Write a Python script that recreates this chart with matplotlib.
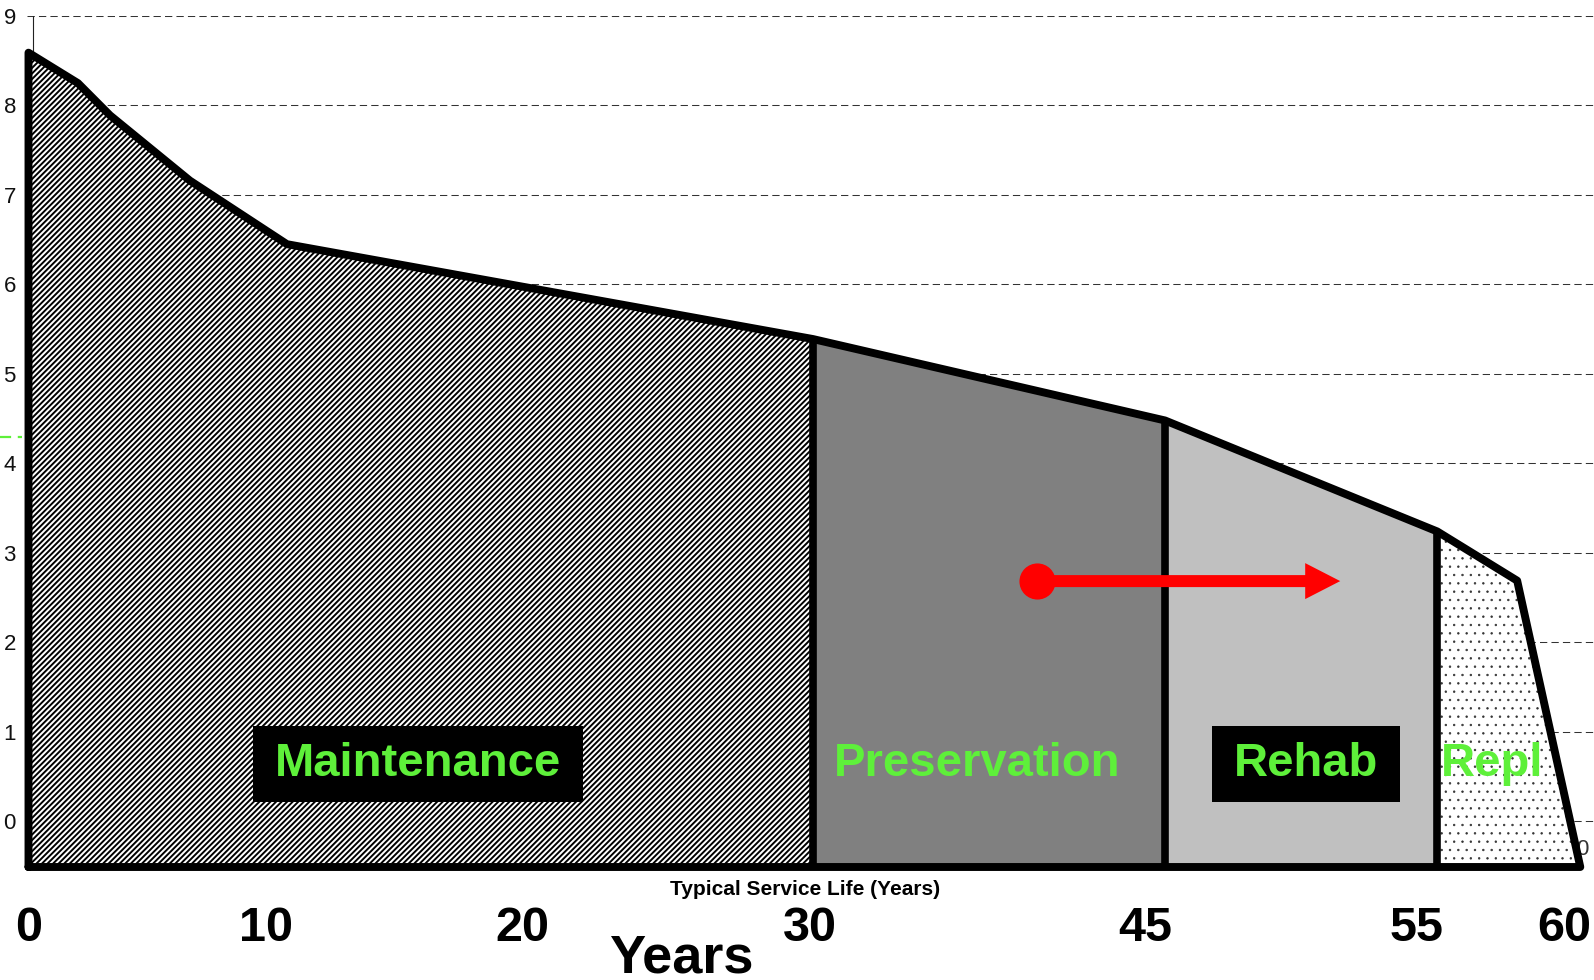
import matplotlib
matplotlib.use('Agg')
import matplotlib.pyplot as plt
from matplotlib.patches import ArrowStyle

# ---------------- data ----------------
age = [0.0, 1.91, 3.15, 6.24, 9.99, 30.32, 43.93, 54.45, 57.54, 59.98]
condition = [8.59, 8.25, 7.89, 7.16, 6.45, 5.39, 4.48, 3.24, 2.69, -0.51]
base = -0.51
phase_names = ['Maintenance', 'Preservation', 'Rehab', 'Repl']
phase_bounds = [0.0, 30.32, 43.93, 54.45, 59.98]
label_x = [15.06, 36.66, 49.37, 56.57]
label_y = 0.64
yticks = list(range(10))
xtick_pos = [0, 9.18, 19.10, 30.21, 43.16, 53.67, 59.35]
xtick_labels = ['0', '10', '20', '30', '45', '55', '60']
arrow_start = (38.97, 2.685)
arrow_end = (50.70, 2.685)

plt.rcParams['font.family'] = ['Liberation Sans', 'DejaVu Sans']

GREEN = '#5EF03A'

fig = plt.figure(figsize=(15.94, 9.80), dpi=100)
W, H = 1594, 980
ax = fig.add_axes([27 / W, (H - 867) / H, (W - 27) / W, (867 - 16) / H])
ax.set_xlim(-0.058, 60.51)
ax.set_ylim(base, 9)
for s in ax.spines.values():
    s.set_visible(False)

# y axis / grid
ax.set_yticks(yticks)
ax.set_yticklabels([str(v) for v in yticks], fontsize=16, color='#111111')
ax.tick_params(axis='y', length=0, pad=8)
ax.yaxis.grid(True, color='#333333', lw=0.75, linestyle=(0, (7, 4)), zorder=0)
ax.set_axisbelow(True)
ax.axvline(0.174, color='#222222', lw=0.8, zorder=1)

# x "ticks"
ax.set_xticks(xtick_pos)
ax.set_xticklabels(xtick_labels, fontsize=35, fontweight='bold')
ax.tick_params(axis='x', length=0, pad=28)

# phase fills
styles = [
    dict(facecolor='white', edgecolor='black', hatch='//////', linewidth=0),
    dict(facecolor='#808080', edgecolor='none', linewidth=0),
    dict(facecolor='#c0c0c0', edgecolor='none', linewidth=0),
    dict(facecolor='white', edgecolor='#333333', hatch='..', linewidth=0),
]
hatch_lw = [1.4, 1.0, 1.0, 0.5]
for i in range(4):
    lo, hi = phase_bounds[i], phase_bounds[i + 1]
    xs = [a for a in age if lo <= a <= hi]
    ys = [c for a, c in zip(age, condition) if lo <= a <= hi]
    plt.rcParams['hatch.linewidth'] = hatch_lw[i]
    coll = ax.fill_between(xs, ys, base, zorder=2, clip_on=False, **styles[i])
    if hasattr(coll, 'set_hatch_linewidth'):
        coll.set_hatch_linewidth(hatch_lw[i])

# outline
ax.plot([0] + age + [0], [base] + condition + [base], color='black', lw=5.7,
        solid_joinstyle='round', solid_capstyle='round', zorder=3, clip_on=False)
for b in phase_bounds[1:-1]:
    ax.plot([b, b], [base, condition[age.index(b)]], color='black', lw=5.5,
            solid_capstyle='butt', zorder=3, clip_on=False)

# arrow
ax.annotate('', xy=arrow_end, xytext=arrow_start,
            arrowprops=dict(arrowstyle=ArrowStyle.Simple(head_length=2.52, head_width=2.59,
                                                         tail_width=0.864),
                            mutation_scale=10, color='red', lw=0,
                            shrinkA=0, shrinkB=0), zorder=5)
ax.plot([arrow_start[0]], [arrow_start[1]], 'o', ms=25, color='red', mec='red', zorder=6)

# phase labels
for i, name in enumerate(phase_names):
    kw = dict(ha='center', va='center', fontsize=34, fontweight='bold', color=GREEN, zorder=7)
    if name in ('Maintenance', 'Rehab'):
        kw['bbox'] = dict(boxstyle='square,pad=0.46', facecolor='black', edgecolor='none',
                          mutation_aspect=0.72)
    ax.text(label_x[i], label_y, name, **kw)

# leftover artefacts of underlying chart
ax.plot([-1.10, -0.25], [4.29, 4.29], color=GREEN, lw=1.6, linestyle=(0, (5, 3)),
        clip_on=False, zorder=1)
ax.text(60.05, -0.32, '0', fontsize=16, color='#333333', ha='center', va='center',
        zorder=1, clip_on=False)

fig.text(805 / W, 1 - 895 / H, 'Typical Service Life (Years)', ha='center', va='baseline',
         fontsize=15, fontweight='bold')
fig.text(681 / W, 1 - 972 / H, 'Years', ha='center', va='baseline',
         fontsize=39, fontweight='bold')

fig.savefig('out.png', dpi=100)
